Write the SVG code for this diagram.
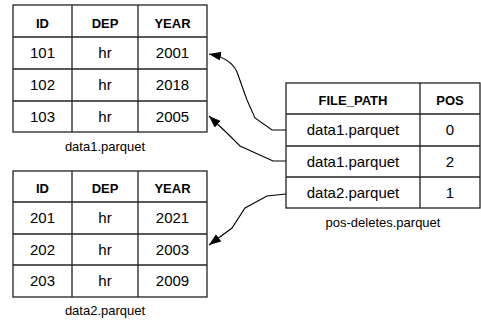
<svg xmlns="http://www.w3.org/2000/svg" width="481" height="320" viewBox="0 0 481 320">
<defs>
<marker id="ah" markerWidth="13" markerHeight="10" refX="12" refY="4.5" orient="auto" markerUnits="userSpaceOnUse">
<path d="M0,0 L12,4.5 L0,9 z" fill="#000"/>
</marker>
<style>
.b{fill:#fff;stroke:#222;stroke-width:1.3}
.g{stroke:#222;stroke-width:1.3}
.h{font-family:"Liberation Sans",Arial,sans-serif;font-weight:bold;font-size:13px;text-anchor:middle;fill:#000}
.t{font-family:"Liberation Sans",Arial,sans-serif;font-size:15px;text-anchor:middle;fill:#000}
.c{font-family:"Liberation Sans",Arial,sans-serif;font-size:13px;text-anchor:middle;fill:#000}
.a{fill:none;stroke:#000;stroke-width:1.1}
</style>
</defs>
<rect width="481" height="320" fill="#fff"/>
<g id="data1">
<rect class="b" x="13" y="5" width="194" height="127"/>
<line class="g" x1="13" y1="37" x2="207" y2="37"/>
<line class="g" x1="13" y1="69" x2="207" y2="69"/>
<line class="g" x1="13" y1="101" x2="207" y2="101"/>
<line class="g" x1="72" y1="5" x2="72" y2="132"/>
<line class="g" x1="138" y1="5" x2="138" y2="132"/>
<text class="h" x="42.5" y="27.5">ID</text>
<text class="h" x="105" y="27.5">DEP</text>
<text class="h" x="172.5" y="27.5">YEAR</text>
<text class="t" x="42.5" y="58">101</text>
<text class="t" x="105" y="58">hr</text>
<text class="t" x="172.5" y="58">2001</text>
<text class="t" x="42.5" y="90">102</text>
<text class="t" x="105" y="90">hr</text>
<text class="t" x="172.5" y="90">2018</text>
<text class="t" x="42.5" y="121.5">103</text>
<text class="t" x="105" y="121.5">hr</text>
<text class="t" x="172.5" y="121.5">2005</text>
<text class="c" x="105" y="151">data1.parquet</text>
</g>
<g id="data2">
<rect class="b" x="13" y="171" width="194" height="126"/>
<line class="g" x1="13" y1="202" x2="207" y2="202"/>
<line class="g" x1="13" y1="234" x2="207" y2="234"/>
<line class="g" x1="13" y1="265" x2="207" y2="265"/>
<line class="g" x1="72" y1="171" x2="72" y2="297"/>
<line class="g" x1="138" y1="171" x2="138" y2="297"/>
<text class="h" x="42.5" y="193">ID</text>
<text class="h" x="105" y="193">DEP</text>
<text class="h" x="172.5" y="193">YEAR</text>
<text class="t" x="42.5" y="223">201</text>
<text class="t" x="105" y="223">hr</text>
<text class="t" x="172.5" y="223">2021</text>
<text class="t" x="42.5" y="255">202</text>
<text class="t" x="105" y="255">hr</text>
<text class="t" x="172.5" y="255">2003</text>
<text class="t" x="42.5" y="286">203</text>
<text class="t" x="105" y="286">hr</text>
<text class="t" x="172.5" y="286">2009</text>
<text class="c" x="105" y="315">data2.parquet</text>
</g>
<g id="posdeletes">
<rect class="b" x="286" y="83" width="194" height="125"/>
<line class="g" x1="286" y1="114" x2="480" y2="114"/>
<line class="g" x1="286" y1="146" x2="480" y2="146"/>
<line class="g" x1="286" y1="177" x2="480" y2="177"/>
<line class="g" x1="420" y1="83" x2="420" y2="208"/>
<text class="h" x="353" y="105">FILE_PATH</text>
<text class="h" x="450" y="105">POS</text>
<text class="t" x="353" y="135">data1.parquet</text>
<text class="t" x="450" y="135">0</text>
<text class="t" x="353" y="166.5">data1.parquet</text>
<text class="t" x="450" y="166.5">2</text>
<text class="t" x="353" y="197.5">data2.parquet</text>
<text class="t" x="450" y="197.5">1</text>
<text class="c" x="383" y="227">pos-deletes.parquet</text>
</g>
<g id="connectors">
<path class="a" d="M286,130 L272,130 L255,118 L247,100 L237,72 Q231,58 209,54" marker-end="url(#ah)"/>
<path class="a" d="M286,161 L273,161 L240,146 L228,134 L209,116" marker-end="url(#ah)"/>
<path class="a" d="M286,194 L267,196 L245,208 L232,228 L209,245" marker-end="url(#ah)"/>
</g>
</svg>
